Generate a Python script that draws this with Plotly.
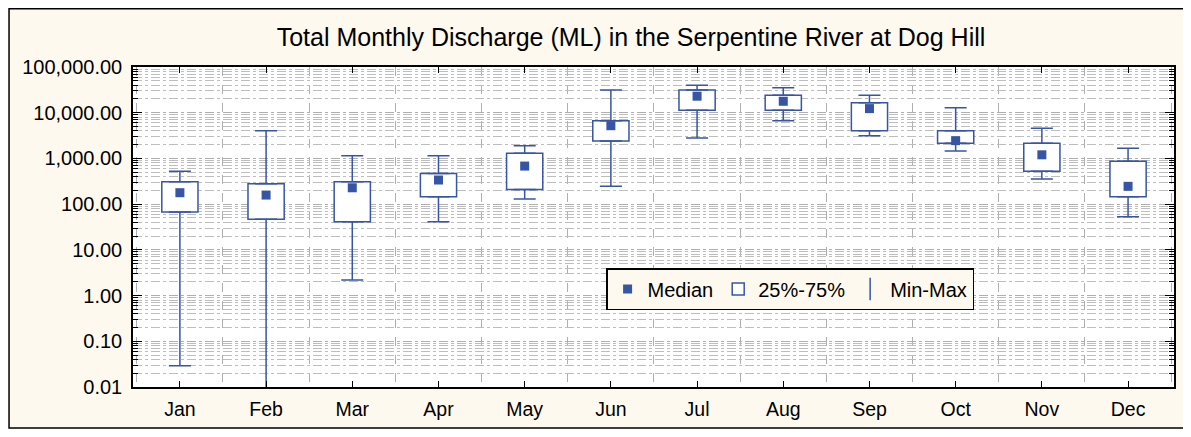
import plotly.graph_objects as go

months = ["Jan", "Feb", "Mar", "Apr", "May", "Jun", "Jul", "Aug", "Sep", "Oct", "Nov", "Dec"]
min_vals = [0.029, 0.005, 2.2, 41, 130, 245, 2800, 6700, 3150, 1450, 355, 53]
q1_vals = [67, 47, 41, 145, 210, 2400, 11300, 11300, 4050, 2140, 525, 145]
median_vals = [178, 158, 228, 337, 680, 5200, 23000, 17800, 12300, 2450, 1200, 245]
q3_vals = [310, 280, 310, 470, 1290, 6700, 31400, 24000, 16500, 4050, 2140, 870]
max_vals = [525, 4050, 1150, 1150, 1900, 31400, 40000, 35000, 24000, 12900, 4600, 1660]

BLUE = "#3755A5"
CREAM = "#FEF9EE"
FONT = "Liberation Sans, Arial, sans-serif"

x = list(range(len(months)))

fig = go.Figure()

# 25%-75% boxes
fig.add_trace(go.Bar(
    x=x, y=[b - a for a, b in zip(q1_vals, q3_vals)], base=q1_vals,
    width=0.42, marker=dict(color="white", line=dict(color=BLUE, width=1.5)),
    name="25%-75%", legendrank=2,
))

# whiskers
fig.add_trace(go.Scatter(
    x=x, y=q3_vals, mode="markers",
    marker=dict(size=1, color="rgba(0,0,0,0)"),
    error_y=dict(type="data", symmetric=False,
                 array=[m - q for m, q in zip(max_vals, q3_vals)],
                 arrayminus=[0] * len(x), color=BLUE, thickness=1.5, width=11),
    showlegend=False, hoverinfo="skip",
))
fig.add_trace(go.Scatter(
    x=x, y=q1_vals, mode="markers",
    marker=dict(size=1, color="rgba(0,0,0,0)"),
    error_y=dict(type="data", symmetric=False,
                 array=[0] * len(x),
                 arrayminus=[q - m for m, q in zip(min_vals, q1_vals)],
                 color=BLUE, thickness=1.5, width=11),
    showlegend=False, hoverinfo="skip",
))

# medians
fig.add_trace(go.Scatter(
    x=x, y=median_vals, mode="markers",
    marker=dict(symbol="square", size=9, color=BLUE),
    name="Median", legendrank=1,
))

# legend entry for Min-Max
fig.add_trace(go.Scatter(
    x=[None], y=[None], mode="markers",
    marker=dict(symbol="line-ns-open", size=18, color=BLUE, line=dict(color=BLUE, width=1.5)),
    name="Min-Max", legendrank=3,
))

# page offset (body margin of 8px); keep the figure within the window
OFF = 8
W, H = 1191 - 2 * OFF, 437 - 2 * OFF
L = 133 - OFF
T = 67 - OFF
R = W - (1176 - OFF)
B = H - (387 - OFF)
pw, ph = W - L - R, H - T - B

def px_x(p):
    return (p - OFF - L) / pw

def px_y(p):
    return (H - B - (p - OFF)) / ph

fig.update_layout(
    width=W, height=H,
    margin=dict(l=L, r=R, t=T, b=B),
    paper_bgcolor=CREAM,
    plot_bgcolor="white",
    font=dict(family=FONT, size=19, color="black"),
    title=dict(text="Total Monthly Discharge (ML) in the Serpentine River at Dog Hill",
               x=(631 - OFF) / W, xanchor="center", y=1 - (37 - OFF) / H, yanchor="middle",
               font=dict(size=25, family=FONT, color="black")),
    showlegend=True,
    legend=dict(orientation="h", x=px_x(607), y=px_y(268), xanchor="left", yanchor="top",
                bgcolor=CREAM, bordercolor="black", borderwidth=1.5,
                font=dict(size=20, family=FONT), traceorder="normal"),
    barmode="overlay",
    shapes=[
        dict(type="rect", xref="paper", yref="paper",
             x0=px_x(8.8), x1=px_x(1220), y0=px_y(428), y1=px_y(8.8),
             fillcolor="rgba(0,0,0,0)", line=dict(color="black", width=1.5), layer="above"),
    ],
)

fig.update_xaxes(
    range=[-0.544, 11.533],
    tickmode="array", tickvals=x, ticktext=months,
    ticks="inside", ticklen=6, tickcolor="black",
    showline=True, linecolor="black", linewidth=1.5, mirror="ticks",
    showgrid=False, zeroline=False,
    minor=dict(tick0=0.5, dtick=1, showgrid=True, gridcolor="#AFAFAF",
               griddash="dash", gridwidth=1, ticks=""),
    tickfont=dict(size=19.5),
    ticklabelstandoff=4,
)

fig.update_yaxes(
    type="log", range=[-2, 5], dtick=1, tickformat=",.2f",
    ticks="inside", ticklen=9, tickcolor="black",
    showline=True, linecolor="black", linewidth=1.5, mirror="ticks",
    showgrid=True, gridcolor="#AFAFAF", griddash="dashdot", gridwidth=1,
    minor=dict(dtick="D1", showgrid=True, gridcolor="#BDBDBD", griddash="dashdot",
               gridwidth=1, ticks="inside", ticklen=5, tickcolor="black"),
    zeroline=False,
    tickfont=dict(size=20),
    ticklabelstandoff=5,
)

fig.write_html("out.html")
